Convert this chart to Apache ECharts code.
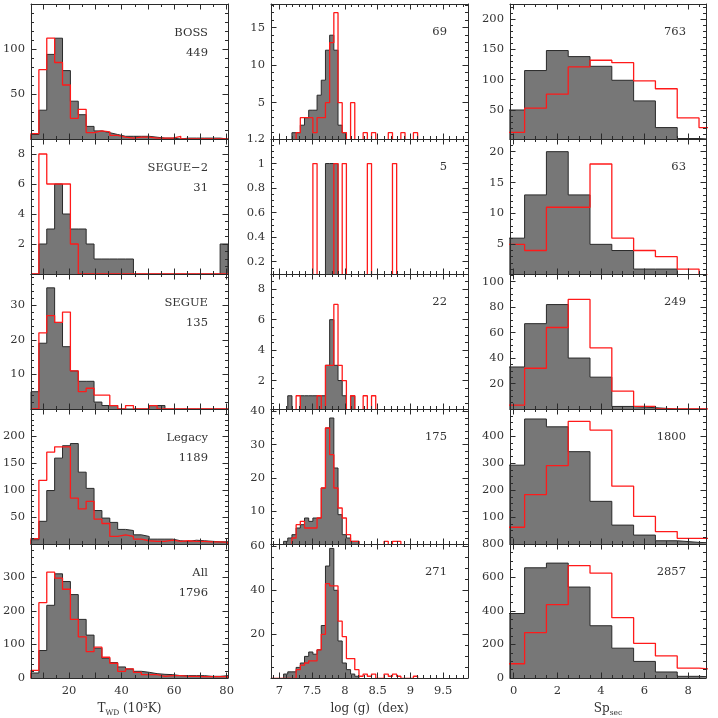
<!DOCTYPE html>
<html>
<head>
<meta charset="utf-8">
<script src="https://cdn.jsdelivr.net/npm/echarts@6/dist/echarts.min.js"></script>
<style>
html, body { margin: 0; padding: 0; background: #fff; }
#chart { width: 718px; height: 718px; }
</style>
</head>
<body>
<div id="chart"></div>
<script>
// histogram bins: T_WD in 10^3 K, log g in dex, Sp_sec in subclasses
const tempBinStart = 5.5, tempBinWidth = 3;
const loggBinStart = 6.87, loggBinWidth = 0.064;
const spBinStart = -0.5, spBinWidth = 1;

// grey = filled histogram, red = outline histogram
const bossTemp = [5, 32, 94, 112, 76, 42, 27, 14, 9, 7, 5, 3, 3, 3, 3, 2, 1, 1, 0, 1, 1, 1, 1, 1, 0];
const bossTempRed = [6, 77, 112, 85, 60, 23, 33, 7, 9, 8, 4, 2, 1, 2, 2, 1, 1, 1, 3, 0, 0, 0, 0, 0, 0];
const segue2Temp = [0, 2, 3, 6, 4, 3, 3, 2, 1, 1, 1, 1, 1, 0, 0, 0, 0, 0, 0, 0, 0, 0, 0, 0, 2];
const segue2TempRed = [0, 8, 6, 6, 6, 2, 0, 0, 0, 0, 0, 0, 0, 0, 0, 0, 0, 0, 0, 0, 0, 0, 0, 0, 0];
const segueTemp = [5, 19, 35, 25, 18, 11, 8, 8, 2, 1, 1, 0, 0, 0, 0, 1, 1, 0, 0, 0, 0, 0, 0, 0, 0];
const segueTempRed = [0, 22, 27, 25, 28, 11, 5, 6, 4, 4, 1, 0, 1, 0, 0, 1, 0, 0, 0, 0, 0, 0, 0, 0, 0];
const legacyTemp = [8, 42, 99, 159, 182, 186, 133, 103, 62, 48, 40, 27, 25, 17, 14, 9, 9, 9, 6, 5, 7, 6, 5, 4, 4];
const legacyTempRed = [10, 118, 170, 180, 180, 85, 65, 79, 46, 38, 14, 17, 14, 9, 6, 5, 5, 7, 5, 6, 5, 5, 4, 4, 3];
const allTemp = [15, 82, 217, 311, 288, 249, 175, 128, 89, 59, 46, 33, 27, 20, 17, 13, 11, 10, 7, 7, 7, 7, 5, 5, 7];
const allTempRed = [23, 225, 316, 298, 265, 175, 123, 79, 92, 62, 44, 20, 27, 17, 10, 10, 5, 7, 7, 5, 5, 4, 4, 4, 4];

const bossLogg = [0, 0, 0, 0, 0, 1, 1, 2, 3, 4, 4, 6, 8, 12, 14, 12, 2, 1];
const bossLoggRed = [0, 0, 0, 0, 0, 0, 1, 3, 3, 3, 1, 3, 3, 5, 13, 17, 5, 1, 0, 5, 0, 0, 1, 0, 1, 0, 0, 0, 1, 0, 0, 1, 0, 0, 1];
const segue2Logg = [0, 0, 0, 0, 0, 0, 0, 0, 0, 0, 0, 0, 0, 1, 1, 1];
const segue2LoggRed = [0, 0, 0, 0, 0, 0, 0, 0, 0, 0, 1, 0, 0, 0, 0, 1, 0, 1, 0, 0, 0, 0, 0, 1, 0, 0, 0, 0, 0, 1];
const segueLogg = [0, 0, 0, 0, 1, 0, 0, 1, 1, 1, 1, 1, 1, 3, 6, 3, 2, 1, 0, 1];
const segueLoggRed = [0, 0, 0, 0, 0, 0, 1, 0, 0, 0, 0, 1, 0, 3, 3, 7, 3, 2, 0, 1, 0, 0, 1, 0, 1];
const legacyLogg = [0, 0, 0, 1, 2, 3, 5, 6, 8, 7, 8, 8, 17, 35, 38, 23, 9, 3, 2, 1, 1];
const legacyLoggRed = [0, 0, 0, 0, 0, 2, 6, 7, 5, 5, 5, 8, 17, 35, 27, 17, 11, 8, 3, 1, 1, 0, 0, 0, 0, 0, 0, 1, 0, 1, 1];
const allLogg = [0, 0, 0, 2, 3, 3, 5, 7, 10, 12, 11, 13, 24, 51, 59, 40, 17, 7, 4, 2, 1];
const allLoggRed = [0, 0, 0, 0, 0, 0, 4, 6, 7, 8, 8, 13, 20, 43, 42, 42, 26, 19, 9, 9, 4, 1, 2, 1, 2, 0, 0, 2, 1, 2, 1, 0, 0, 0, 1];

const bossSp = [50, 115, 148, 138, 122, 99, 65, 21, 3, 1];
const bossSpRed = [13, 53, 76, 121, 132, 128, 98, 85, 37, 21];
const segue2Sp = [6, 13, 20, 13, 5, 4, 1, 1, 0, 0];
const segue2SpRed = [5, 4, 11, 11, 18, 6, 4, 3, 1, 0];
const segueSp = [33, 67, 82, 40, 25, 2, 1, 0, 0, 0];
const segueSpRed = [3, 32, 64, 86, 48, 14, 2, 0, 0, 0];
const legacySp = [292, 463, 434, 342, 158, 70, 33, 12, 6, 3];
const legacySpRed = [62, 183, 290, 454, 422, 214, 102, 46, 21, 21];
const allSp = [385, 658, 686, 543, 312, 178, 99, 36, 10, 4];
const allSpRed = [85, 271, 438, 671, 626, 360, 207, 132, 59, 49];

const sampleNames = ['BOSS', 'SEGUE\u22122', 'SEGUE', 'Legacy', 'All'];
const tempCounts = [449, 31, 135, 1189, 1796];
const loggCounts = [69, 5, 22, 175, 271];
const spCounts = [763, 63, 249, 1800, 2857];

const tempTicks = [20, 40, 60, 80];
const loggTicks = [7, 7.5, 8, 8.5, 9, 9.5];
const spTicks = [0, 2, 4, 6, 8];

const rows = [
    [bossTemp, bossTempRed, bossLogg, bossLoggRed, bossSp, bossSpRed],
    [segue2Temp, segue2TempRed, segue2Logg, segue2LoggRed, segue2Sp, segue2SpRed],
    [segueTemp, segueTempRed, segueLogg, segueLoggRed, segueSp, segueSpRed],
    [legacyTemp, legacyTempRed, legacyLogg, legacyLoggRed, legacySp, legacySpRed],
    [allTemp, allTempRed, allLogg, allLoggRed, allSp, allSpRed],
];
const binStarts = [tempBinStart, loggBinStart, spBinStart];
const binWidths = [tempBinWidth, loggBinWidth, spBinWidth];

const xCfg = [
    { min: 5.5, max: 80.5, labels: tempTicks, major: [10, 20, 30, 40, 50, 60, 70, 80], minor: 5,
      name: 'T{s|WD} (10\u00b3K)' },
    { min: 6.87, max: 9.88, labels: loggTicks, major: loggTicks, minor: 0.1, name: 'log (g)  (dex)' },
    { min: -0.17, max: 8.82, labels: spTicks, major: spTicks, minor: 0.5, name: 'Sp{s|sec}' },
];
const yCfg = [
    [{ min: 0, max: 150, labels: [50, 100], minor: 10 },
     { min: 0.16, max: 18.16, labels: [5, 10, 15], minor: 1 },
     { min: 2.2, max: 224.7, labels: [50, 100, 150, 200], minor: 10 }],
    [{ min: 0, max: 9, labels: [2, 4, 6, 8], minor: 0.5 },
     { min: 0.1, max: 1.2, labels: [0.2, 0.4, 0.6, 0.8, 1, 1.2], minor: 0.05 },
     { min: 0.2, max: 22.05, labels: [5, 10, 15, 20], minor: 1 }],
    [{ min: 0, max: 39, labels: [10, 20, 30], minor: 2 },
     { min: 0.13, max: 9, labels: [2, 4, 6, 8], minor: 0.5 },
     { min: 0, max: 106, labels: [20, 40, 60, 80, 100], minor: 5 }],
    [{ min: 0, max: 250, labels: [50, 100, 150, 200], minor: 10 },
     { min: 0.2, max: 40.7, labels: [10, 20, 30, 40], minor: 2 },
     { min: 0, max: 500, labels: [100, 200, 300, 400], minor: 25 }],
    [{ min: 0, max: 400, labels: [0, 100, 200, 300], minor: 20 },
     { min: 0.2, max: 61, labels: [20, 40, 60], minor: 5 },
     { min: 0, max: 800, labels: [0, 200, 400, 600, 800], minor: 50 }],
];

const FONT = '"DejaVu Serif", serif';
const INK = '#2b2b2b';
const gridLeft = [31, 271, 510];
const gridWidth = [197, 197, 196];
const gridTop = 4, gridHeight = 135;
const labelRight = [208, 447, 686];

function stepPoints(start, width, counts) {
    const pts = [[start, 0]];
    counts.forEach((c, i) => pts.push([+(start + i * width).toFixed(4), c]));
    const end = +(start + counts.length * width).toFixed(4);
    pts.push([end, counts[counts.length - 1]], [end, 0]);
    return pts;
}

function tickValues(min, max, step) {
    const out = [];
    const first = Math.ceil(min / step - 1e-9);
    for (let k = first; k * step <= max + 1e-9; k++) out.push(+(k * step).toFixed(4));
    return out;
}

const option = { animation: false, grid: [], xAxis: [], yAxis: [], series: [], graphic: [] };

function addAxes(dim, gridIndex, cfg, showLabels, name) {
    const list = dim === 'x' ? option.xAxis : option.yAxis;
    const sides = dim === 'x' ? ['bottom', 'top'] : ['left', 'right'];
    const mainIndex = list.length;
    const major = cfg.major || cfg.labels;
    const minor = tickValues(cfg.min, cfg.max, cfg.minor);
    sides.forEach((pos, s) => {
        [[major, 5.5], [minor, 3]].forEach(([vals, len], k) => {
            const main = s === 0 && k === 0;
            const ax = {
                type: 'value', gridIndex: gridIndex, position: pos,
                min: cfg.min, max: cfg.max, z: 5, silent: true,
                axisLine: { show: k === 0, onZero: false, lineStyle: { color: INK, width: 1 } },
                axisTick: { show: true, inside: true, length: len, customValues: vals,
                    lineStyle: { color: INK, width: 1 } },
                axisLabel: { show: main && showLabels, customValues: cfg.labels,
                    fontFamily: FONT, fontSize: 11.5, color: '#333', margin: dim === 'x' ? 7 : 6 },
                splitLine: { show: false },
            };
            if (main && name) {
                ax.name = name;
                ax.nameLocation = 'middle';
                ax.nameGap = 23;
                ax.nameTextStyle = {
                    fontFamily: FONT, fontSize: 12, color: '#333', lineHeight: 16,
                    rich: { s: { fontFamily: FONT, fontSize: 7.5, color: '#333', lineHeight: 8, verticalAlign: 'bottom' } },
                };
            }
            list.push(ax);
        });
    });
    return mainIndex;
}

function textEl(x, y, text) {
    return {
        type: 'text', x: x, y: y, silent: true, z: 10,
        style: { text: text, font: '11.5px ' + FONT, fill: '#333',
            textAlign: 'right', textVerticalAlign: 'middle', align: 'right', verticalAlign: 'middle' },
    };
}

rows.forEach((hists, r) => {
    for (let c = 0; c < 3; c++) {
        const g = option.grid.length;
        const top = gridTop + r * gridHeight;
        option.grid.push({ left: gridLeft[c], width: gridWidth[c], top: top, height: gridHeight });
        const last = r === rows.length - 1;
        const xi = addAxes('x', g, xCfg[c], last, last ? xCfg[c].name : null);
        const yi = addAxes('y', g, yCfg[r][c], true, null);
        const grey = hists[2 * c], red = hists[2 * c + 1];
        option.series.push({
            type: 'line', xAxisIndex: xi, yAxisIndex: yi, step: 'end', symbol: 'none', silent: true,
            data: stepPoints(binStarts[c], binWidths[c], grey), z: 2,
            lineStyle: { color: '#2a2a2a', width: 1 },
            areaStyle: { color: '#777777', opacity: 1, origin: 'start' },
        });
        option.series.push({
            type: 'line', xAxisIndex: xi, yAxisIndex: yi, step: 'end', symbol: 'none', silent: true,
            data: stepPoints(binStarts[c], binWidths[c], red), z: 3,
            lineStyle: { color: '#ff1a1a', width: 1.3 },
        });
        if (c === 0) {
            option.graphic.push(textEl(labelRight[c], top + 29, sampleNames[r]));
            option.graphic.push(textEl(labelRight[c], top + 49, String(tempCounts[r])));
        } else {
            const counts = c === 1 ? loggCounts : spCounts;
            option.graphic.push(textEl(labelRight[c], top + 28, String(counts[r])));
        }
    }
});

const chart = echarts.init(document.getElementById('chart'));
chart.setOption(option);
</script>
</body>
</html>
